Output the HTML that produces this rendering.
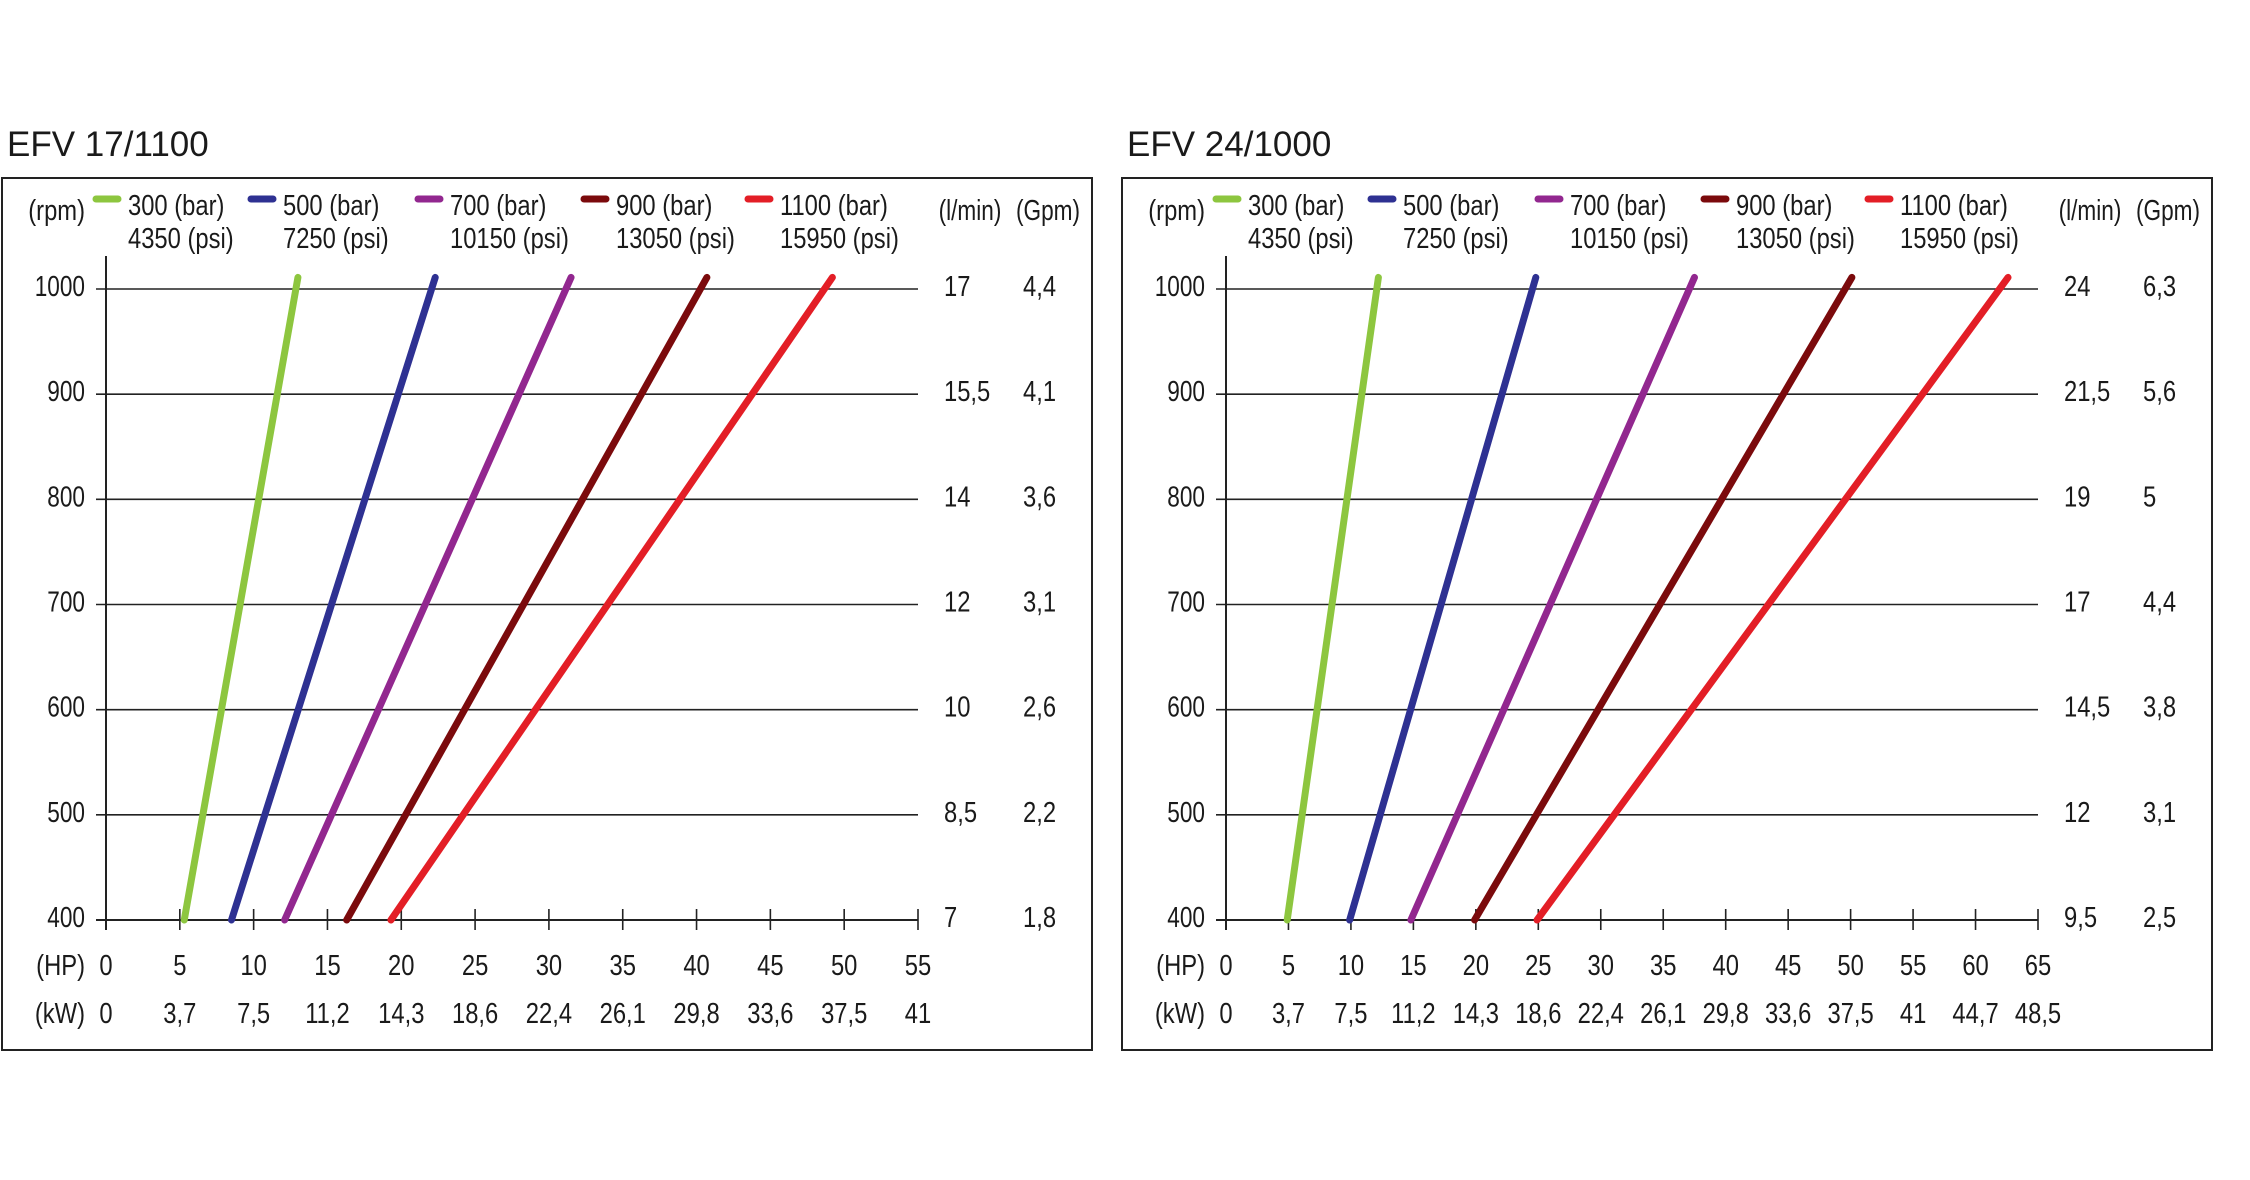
<!DOCTYPE html>
<html><head><meta charset="utf-8"><style>
html,body{margin:0;padding:0;background:#fff}
svg{display:block}
text{font-family:"Liberation Sans",sans-serif;fill:#1a1a1a}
</style></head><body>
<svg id="root" width="2250" height="1180" viewBox="0 0 2250 1180" xmlns="http://www.w3.org/2000/svg"></svg>
<script>
// ---- shared data ----
const rpmTicks = [1000, 900, 800, 700, 600, 500, 400];
const seriesNames = ["300 (bar)", "500 (bar)", "700 (bar)", "900 (bar)", "1100 (bar)"];
const seriesPsi = ["4350 (psi)", "7250 (psi)", "10150 (psi)", "13050 (psi)", "15950 (psi)"];
const seriesColors = ["#8dc63f", "#2e3192", "#92278f", "#7b0a0c", "#e31e26"];
const rpmStart = 400;
const rpmEnd = 1011;
// ---- chart 1: EFV 17/1100 ----
const c1Title = "EFV 17/1100";
const c1HpTicks = [0,5,10,15,20,25,30,35,40,45,50,55];
const c1KwTicks = ["0","3,7","7,5","11,2","14,3","18,6","22,4","26,1","29,8","33,6","37,5","41"];
const c1Lmin = ["17","15,5","14","12","10","8,5","7"];
const c1Gpm = ["4,4","4,1","3,6","3,1","2,6","2,2","1,8"];
const c1HpAt400 = [5.3, 8.5, 12.1, 16.3, 19.3];
const c1HpAtTop = [13.0, 22.3, 31.5, 40.7, 49.2];
// ---- chart 2: EFV 24/1000 ----
const c2Title = "EFV 24/1000";
const c2HpTicks = [0,5,10,15,20,25,30,35,40,45,50,55,60,65];
const c2KwTicks = ["0","3,7","7,5","11,2","14,3","18,6","22,4","26,1","29,8","33,6","37,5","41","44,7","48,5"];
const c2Lmin = ["24","21,5","19","17","14,5","12","9,5"];
const c2Gpm = ["6,3","5,6","5","4,4","3,8","3,1","2,5"];
const c2HpAt400 = [4.9, 9.9, 14.8, 19.9, 24.9];
const c2HpAtTop = [12.2, 24.8, 37.5, 50.1, 62.6];

const NS = "http://www.w3.org/2000/svg";
const root = document.getElementById('root');
function mk(tag, attrs, parent){
  const e = document.createElementNS(NS, tag);
  for (const k in attrs) e.setAttribute(k, attrs[k]);
  parent.appendChild(e);
  return e;
}
function txt(parent, s, x, y, size, anchor, sx){
  const t = mk('text', {transform:`translate(${x},${y}) scale(${sx},1)`, 'font-size':size, 'text-anchor':anchor}, parent);
  t.textContent = s;
  return t;
}

function drawChart(dx, title, hpTicks, kwTicks, lmin, gpm, hp400, hpTop){
  const g = mk('g', {}, root);
  
  
  const x0 = 106 + dx, x1 = 918 + dx;
  const yTop = 289, yBot = 920;
  const hpMax = hpTicks[hpTicks.length-1];
  const X = v => x0 + (v / hpMax) * (x1 - x0);
  const Y = r => yBot - (r - 400) / 600 * (yBot - yTop);

  const t = mk('text', {x: 7 + dx, y: 156, 'font-size': 35}, g);
  t.textContent = title;
  
  

  const fr = mk('rect', {x: 2 + dx, y: 178, width: 1090, height: 872, fill: 'none', stroke: '#222', 'stroke-width': 2}, g);
  
  

  const r = txt(g, "(rpm)", 85 + dx, 220, 29, 'end', 0.82);
  
  
  const lm = txt(g, "(l/min)", 970 + dx, 220, 29, 'middle', 0.78);
  
  
  const gp = txt(g, "(Gpm)", 1048 + dx, 220, 29, 'middle', 0.78);
  
  

  const swX = [93, 248, 415, 581, 745];
  seriesNames.forEach((n, i) => {
    const lg = mk('g', {}, g);
    
    
    mk('line', {x1: swX[i] + dx + 3, y1: 199, x2: swX[i] + dx + 25, y2: 199, stroke: seriesColors[i], 'stroke-width': 7, 'stroke-linecap': 'round'}, lg);
    txt(lg, n, swX[i] + 35 + dx, 215, 29, 'start', 0.82);
    txt(lg, seriesPsi[i], swX[i] + 35 + dx, 248, 29, 'start', 0.82);
  });

  const ya = mk('line', {x1: x0, y1: 256, x2: x0, y2: yBot + 10, stroke: '#222', 'stroke-width': 2}, g);
  
  

  rpmTicks.forEach((v, i) => {
    const y = Y(v);
    const gl = mk('line', {x1: x0 - 10, y1: y, x2: x1, y2: y, stroke: '#222', 'stroke-width': v === 400 ? 2 : 1.6}, g);
    
    
    const a = txt(g, String(v), 85 + dx, y + 7, 29, 'end', 0.78);
    
    
    const b = txt(g, lmin[i], 944 + dx, y + 7, 29, 'start', 0.82);
    
    
    const c = txt(g, gpm[i], 1023 + dx, y + 7, 29, 'start', 0.82);
    
    
  });

  const h = txt(g, "(HP)", 85 + dx, 975, 29, 'end', 0.82);
  
  
  const k = txt(g, "(kW)", 85 + dx, 1023, 29, 'end', 0.82);
  
  
  hpTicks.forEach((v, i) => {
    const x = X(v);
    if (i > 0) {
      const tk = mk('line', {x1: x, y1: yBot - 11, x2: x, y2: yBot + 10, stroke: '#222', 'stroke-width': 1.6}, g);
      
      
    }
    const a = txt(g, String(v), x, 975, 29, 'middle', 0.82);
    
    
    const b = txt(g, kwTicks[i], x, 1023, 29, 'middle', 0.82);
    
    
  });

  hp400.forEach((v, i) => {
    const ln = mk('line', {x1: X(v), y1: Y(rpmStart), x2: X(hpTop[i]), y2: Y(rpmEnd), stroke: seriesColors[i], 'stroke-width': 7, 'stroke-linecap': 'round'}, g);
    
    
  });
}

drawChart(0, c1Title, c1HpTicks, c1KwTicks, c1Lmin, c1Gpm, c1HpAt400, c1HpAtTop);
drawChart(1120, c2Title, c2HpTicks, c2KwTicks, c2Lmin, c2Gpm, c2HpAt400, c2HpAtTop);
</script>
</body></html>
